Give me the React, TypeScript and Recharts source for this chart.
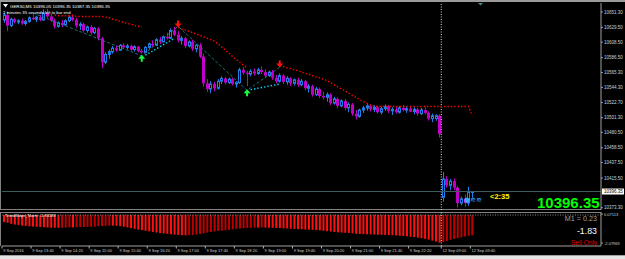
import { ComposedChart, Bar, Line, XAxis, YAxis, ReferenceLine, Cell } from 'recharts';

const SLOTS = 165;
const BULL = '#1e7ee8';
const BEAR = '#c000c8';
const FONT = '"Liberation Sans", Arial, sans-serif';

// GER30 M5 candles, 9 Sep 13:00 .. 22:55 then 12 Sep 09:00 .. 09:40
const openP = [
  10640, 10647, 10632, 10641, 10637, 10639, 10635, 10638, 10643, 10641, 10644, 10640, 10650, 10645, 10639, 10631, 10636, 10633, 10639, 10644,
  10640, 10632, 10634, 10625, 10630, 10622, 10628, 10614, 10580, 10591, 10595, 10600, 10597, 10604, 10601, 10603, 10598, 10602, 10596, 10594,
  10601, 10606, 10604, 10612, 10609, 10616, 10614, 10625, 10619, 10611, 10614, 10603, 10609, 10599, 10604, 10588, 10550, 10542, 10549, 10543,
  10553, 10557, 10551, 10556, 10549, 10551, 10569, 10565, 10563, 10567, 10564, 10569, 10566, 10561, 10566, 10558, 10553, 10561, 10552, 10557,
  10550, 10555, 10548, 10553, 10543, 10546, 10534, 10542, 10532, 10530, 10534, 10522, 10528, 10518, 10525, 10515, 10520, 10507, 10503, 10512,
  10515, 10518, 10513, 10516, 10509, 10514, 10517, 10511, 10513, 10509, 10515, 10512, 10514, 10510, 10513, 10507, 10512, 10508, 10500, 10500,
  10504, 10388, 10414, 10405, 10411, 10402, 10380, 10386, 10380, 10396.05,
];
const highP = [
  10650, 10652, 10643, 10643, 10641, 10642, 10640, 10645, 10648, 10646, 10647, 10655, 10656, 10649, 10642, 10638, 10640, 10641, 10646, 10648,
  10643, 10637, 10636, 10632, 10633, 10630, 10630, 10616, 10594, 10598, 10603, 10604, 10606, 10607, 10606, 10605, 10604, 10603, 10599, 10603,
  10608, 10611, 10614, 10616, 10618, 10622, 10628, 10630, 10624, 10617, 10616, 10611, 10612, 10606, 10607, 10592, 10556, 10553, 10552, 10556,
  10560, 10559, 10558, 10558, 10553, 10572, 10573, 10568, 10570, 10571, 10572, 10574, 10570, 10568, 10569, 10562, 10564, 10563, 10560, 10559,
  10557, 10558, 10556, 10555, 10549, 10548, 10545, 10544, 10538, 10537, 10536, 10531, 10530, 10527, 10528, 10523, 10522, 10512, 10514, 10518,
  10521, 10520, 10519, 10518, 10517, 10520, 10519, 10516, 10517, 10518, 10519, 10517, 10518, 10516, 10515, 10515, 10516, 10510, 10507, 10506,
  10506, 10424, 10418, 10414, 10415, 10404, 10389, 10392, 10403, 10396.35,
];
const lowP = [
  10636, 10624, 10630, 10635, 10634, 10633, 10632, 10636, 10640, 10637, 10638, 10639, 10643, 10637, 10628, 10629, 10630, 10632, 10637, 10638,
  10629, 10626, 10622, 10622, 10619, 10620, 10611, 10572, 10577, 10585, 10592, 10595, 10596, 10599, 10598, 10596, 10595, 10594, 10592, 10593,
  10599, 10602, 10603, 10606, 10608, 10612, 10613, 10617, 10608, 10605, 10600, 10601, 10596, 10594, 10586, 10545, 10538, 10536, 10539, 10541,
  10549, 10548, 10549, 10547, 10544, 10549, 10562, 10546, 10560, 10561, 10562, 10563, 10558, 10559, 10555, 10550, 10551, 10549, 10548, 10546,
  10547, 10545, 10546, 10540, 10537, 10531, 10532, 10529, 10527, 10524, 10519, 10520, 10515, 10516, 10512, 10509, 10504, 10499, 10501, 10508,
  10511, 10510, 10509, 10507, 10506, 10511, 10508, 10505, 10507, 10507, 10510, 10508, 10509, 10506, 10504, 10505, 10506, 10497, 10495, 10497,
  10473, 10382, 10402, 10398, 10398, 10374, 10377, 10375, 10376, 10387.35,
];
const closeP = [
  10647, 10632, 10641, 10637, 10639, 10635, 10638, 10643, 10641, 10644, 10640, 10650, 10645, 10639, 10631, 10636, 10633, 10639, 10644, 10640,
  10632, 10634, 10625, 10630, 10622, 10628, 10614, 10580, 10591, 10595, 10600, 10597, 10604, 10601, 10603, 10598, 10602, 10596, 10594, 10601,
  10606, 10604, 10612, 10609, 10616, 10614, 10625, 10619, 10611, 10614, 10603, 10609, 10599, 10604, 10588, 10550, 10542, 10549, 10543, 10553,
  10557, 10551, 10556, 10549, 10551, 10569, 10565, 10563, 10567, 10564, 10569, 10566, 10561, 10566, 10558, 10553, 10561, 10552, 10557, 10550,
  10555, 10548, 10553, 10543, 10546, 10534, 10542, 10532, 10530, 10534, 10522, 10528, 10518, 10525, 10515, 10520, 10507, 10503, 10512, 10515,
  10518, 10513, 10516, 10509, 10514, 10517, 10511, 10513, 10509, 10515, 10512, 10514, 10510, 10513, 10507, 10512, 10508, 10500, 10504, 10504,
  10478, 10414, 10405, 10411, 10402, 10380, 10386, 10380, 10396, 10396.35,
];

// red trailing stop (dotted), starts at bar 14
const redStopFrom = 14;
const redStop = [
  10647, 10646, 10646, 10646, 10646, 10646, 10645, 10645, 10645, 10645, 10645, 10645, 10645, 10645,
  10644, 10643, 10641, 10640, 10638, 10637, 10635, 10634, 10632, 10631, 10630,
  null, null, null, null, null, null, null, null, null,
  10629, 10627, 10626, 10624, 10622, 10620, 10618, 10616, 10614, 10612, 10610,
  10606, 10602, 10597, 10593, 10588, 10584, 10580, 10576, 10572,
  null, null, null, null, null, null, null, null,
  10575, 10574, 10572, 10571, 10569, 10568, 10566, 10564, 10563, 10561, 10559, 10558, 10556,
  10554, 10551, 10548, 10545, 10542, 10539, 10536, 10533, 10530, 10527, 10524, 10522,
  10519, 10518, 10517, 10517, 10517, 10517, 10517, 10517, 10517, 10517, 10517, 10517, 10517, 10517,
  10517, 10517, 10517, 10517, 10517, 10517, 10517, 10517, 10517, 10517, 10517, 10517, 10517, 10517,
  10504,
];

// cyan support dots [bar, price]
const supportPts = [
  [39, 10590], [40, 10593], [41, 10596], [42, 10599], [43, 10602], [44, 10605], [45, 10608], [46, 10611], [47, 10614],
  [68, 10541], [69, 10542], [70, 10543], [71, 10544], [72, 10545], [73, 10546], [74, 10547], [75, 10548], [76, 10549],
];
const zigzagPts = [[8, 10650], [38, 10589], [48, 10631], [67, 10540], [76, 10573]];
const buyArrows = [[38, 10585], [67, 10536]];
const sellArrows = [[48, 10635], [76, 10578]];

// TrendSlope_Norm histogram
const slopeVals = [
  -0.52, -0.58, -0.66, -0.71, -0.75, -0.79, -0.81, -0.84, -0.86, -0.88, -0.9, -0.91, -0.93, -0.94, -0.95, -0.95, -0.94, -0.93, -0.92, -0.92,
  -0.91, -0.9, -0.89, -0.88, -0.87, -0.86, -0.84, -0.82, -0.8, -0.79, -0.79, -0.8, -0.83, -0.87, -0.92, -0.98, -1.03, -1.08, -1.12, -1.17,
  -1.21, -1.26, -1.3, -1.34, -1.37, -1.4, -1.43, -1.46, -1.48, -1.5, -1.51, -1.5, -1.48, -1.45, -1.41, -1.36, -1.31, -1.26, -1.22, -1.19,
  -1.16, -1.13, -1.1, -1.06, -1.03, -1.0, -0.98, -0.96, -0.95, -0.94, -0.94, -0.93, -0.93, -0.94, -0.95, -0.96, -0.97, -0.99, -1.0, -1.02,
  -1.04, -1.05, -1.06, -1.08, -1.09, -1.1, -1.12, -1.14, -1.17, -1.2, -1.23, -1.26, -1.28, -1.3, -1.32, -1.34, -1.36, -1.39, -1.41, -1.42,
  -1.43, -1.44, -1.45, -1.46, -1.47, -1.48, -1.49, -1.5, -1.52, -1.54, -1.56, -1.58, -1.61, -1.64, -1.68, -1.72, -1.77, -1.83, -1.9, -1.97,
  -2.05, -2.0, -1.93, -1.85, -1.78, -1.72, -1.66, -1.6, -1.55, -1.5,
];

const priceTicks = [10651.3, 10629.5, 10608.5, 10586.5, 10565.3, 10544.3, 10522.7, 10501.3, 10480.5, 10458.5, 10437.5, 10415.5, 10373.3];
const slopeTicks = [0.07113, -2.07969];
const timeTickIdx = [0, 8, 16, 24, 32, 40, 48, 56, 64, 72, 80, 88, 96, 104, 112, 121, 129];
const timeTickText = [
  '9 Sep 2016', '9 Sep 13:40', '9 Sep 14:20', '9 Sep 15:00', '9 Sep 15:40', '9 Sep 16:20', '9 Sep 17:00', '9 Sep 17:40', '9 Sep 18:20',
  '9 Sep 19:00', '9 Sep 19:40', '9 Sep 20:20', '9 Sep 21:00', '9 Sep 21:40', '9 Sep 22:20', '12 Sep 09:00', '12 Sep 09:40',
];

const lastPrice = closeP[closeP.length - 1];

const rows: any[] = Array.from({ length: SLOTS }, (_, i) => ({
  i,
  o: openP[i] ?? null,
  h: highP[i] ?? null,
  l: lowP[i] ?? null,
  c: closeP[i] ?? null,
  range: i < closeP.length ? [lowP[i], highP[i]] : null,
  red: redStop[i - redStopFrom] ?? null,
  sup: null,
  zig: null,
  buy: null,
  sell: null,
  slope: slopeVals[i] ?? null,
}));
supportPts.forEach(([i, v]) => (rows[i].sup = v));
zigzagPts.forEach(([i, v]) => (rows[i].zig = v));
buyArrows.forEach(([i, v]) => (rows[i].buy = v));
sellArrows.forEach(([i, v]) => (rows[i].sell = v));

function Candle(props: any) {
  const { x, y, width, height, payload } = props;
  if (!payload || payload.c == null) return <g />;
  const { o, h, l, c } = payload;
  const top = Math.min(y, y + height);
  const span = Math.abs(height);
  const py = (v: number) => top + ((h - v) / (h - l || 1)) * span;
  const cx = Math.floor(x + width / 2) + 0.5;
  const bull = c >= o;
  const col = bull ? BULL : BEAR;
  const bTop = py(Math.max(o, c));
  const bBot = py(Math.min(o, c));
  return (
    <g>
      <line x1={cx} x2={cx} y1={top} y2={top + span} stroke={col} strokeWidth={1} />
      {bull ? (
        <rect x={cx - 1} y={bTop} width={2} height={Math.max(bBot - bTop, 1)} fill="#000" stroke={col} strokeWidth={1} />
      ) : (
        <rect x={cx - 1.5} y={bTop} width={3} height={Math.max(bBot - bTop, 1)} fill={col} />
      )}
    </g>
  );
}

const upArrow = (p: any) => {
  if (p.value == null || p.cy == null) return <g key={p.index} />;
  const { cx, cy } = p;
  return (
    <path key={p.index} fill="#10ff40"
      d={`M${cx},${cy - 4} L${cx + 3.5},${cy} L${cx + 1},${cy} L${cx + 1},${cy + 3} L${cx - 1},${cy + 3} L${cx - 1},${cy} L${cx - 3.5},${cy} Z`} />
  );
};
const downArrow = (p: any) => {
  if (p.value == null || p.cy == null) return <g key={p.index} />;
  const { cx, cy } = p;
  return (
    <path key={p.index} fill="#ff1010"
      d={`M${cx},${cy + 4} L${cx + 3.5},${cy} L${cx + 1},${cy} L${cx + 1},${cy - 3} L${cx - 1},${cy - 3} L${cx - 1},${cy} L${cx - 3.5},${cy} Z`} />
  );
};

function PriceTick({ x, y, payload }: any) {
  return (
    <text x={x} y={y} dy={1.6} fontSize={4.5} fill="#d0d0d0" fontFamily={FONT}>
      {Number(payload.value).toFixed(2)}
    </text>
  );
}

function SlopeTick({ x, y, payload }: any) {
  return (
    <text x={x} y={y} dy={1.6} fontSize={4} fill="#d0d0d0" fontFamily={FONT}>
      {Number(payload.value).toFixed(5)}
    </text>
  );
}

function TimeTick({ x, y, payload }: any) {
  const k = timeTickIdx.indexOf(payload.value);
  const tx = x - 1.8;
  return (
    <g>
      <line x1={tx} x2={tx} y1={y} y2={y + 2.5} stroke="#b0b0b0" />
      <text x={tx + 1.2} y={y + 5.5} fontSize={4} fill="#d0d0d0" fontFamily={FONT}>
        {timeTickText[k]}
      </text>
    </g>
  );
}

function PriceTag(p: any) {
  const vb = p.viewBox || {};
  const x0 = vb.x ?? vb.x1 ?? 0;
  const w = vb.width ?? (vb.x2 - vb.x1);
  const y0 = vb.y ?? vb.y1 ?? 0;
  return (
    <g>
      <rect x={x0 + w + 1} y={y0 - 3} width={22} height={6} fill="#ffffff" />
      <text x={x0 + w + 3} y={y0 + 1.7} fontSize={4.5} fill="#000" fontFamily={FONT}>
        {lastPrice.toFixed(2)}
      </text>
      <text x={x0 + 488} y={y0 + 7} fontSize={7.5} fontWeight="bold" fill="#ffff00" fontFamily={FONT}>
        {'<2:35'}
      </text>
      <text x={x0 + 462} y={y0 + 10} fontSize={7} fill="#3aa8ff" fontFamily='"DejaVu Sans", sans-serif'>
        {'\u25CF\u224B\u224B'}
      </text>
    </g>
  );
}

export default function App() {
  return (
    <div style={{ position: 'absolute', left: 0, top: 0, width: 625, height: 259, background: '#000', overflow: 'hidden' }}>
      <div style={{ position: 'absolute', left: 0, top: 0, width: 625, height: 2, background: '#9a9a9a' }} />
      <div style={{ position: 'absolute', left: 0, top: 2, width: 601, height: 208, borderLeft: '1px solid #808080', borderBottom: '1px solid #808080', boxSizing: 'border-box' }} />
      <div style={{ position: 'absolute', left: 0, top: 212, width: 601, height: 34, borderLeft: '1px solid #808080', borderTop: '1px solid #808080', boxSizing: 'border-box' }} />

      <div style={{ position: 'absolute', left: 0, top: 0 }}>
        <ComposedChart width={625} height={213} data={rows} margin={{ top: 3, right: 0, bottom: 3, left: 2 }} barCategoryGap={0}>
          <XAxis dataKey="i" type="category" hide />
          <YAxis orientation="right" width={24} domain={[10370.1, 10664.1]} allowDataOverflow ticks={priceTicks}
            tick={<PriceTick />} tickSize={2} tickMargin={1} axisLine={{ stroke: '#a0a0a0' }} tickLine={{ stroke: '#a0a0a0' }} interval={0} />
          <ReferenceLine x={121} position="start" stroke="#e0e0e0" strokeDasharray="1 1.5" />
          <ReferenceLine y={lastPrice} stroke="#3e5e5e" label={<PriceTag />} />
          <Line dataKey="zig" connectNulls stroke="#1e8ca0" strokeWidth={0.8} strokeDasharray="3 2" dot={false} activeDot={false} isAnimationActive={false} />
          <Bar dataKey="range" shape={<Candle />} isAnimationActive={false} />
          <Line dataKey="red" stroke="#ff0000" strokeWidth={1.4} strokeDasharray="1.4 2" dot={false} activeDot={false} isAnimationActive={false} />
          <Line dataKey="sup" stroke="#00e0ff" strokeWidth={1.4} strokeDasharray="1.4 2" dot={false} activeDot={false} isAnimationActive={false} />
          <Line dataKey="buy" stroke="none" dot={upArrow} activeDot={false} isAnimationActive={false} />
          <Line dataKey="sell" stroke="none" dot={downArrow} activeDot={false} isAnimationActive={false} />
        </ComposedChart>
      </div>

      <div style={{ position: 'absolute', left: 0, top: 210 }}>
        <ComposedChart width={625} height={48} data={rows} margin={{ top: 2, right: 0, bottom: 0, left: 2 }} barCategoryGap={0}>
          <XAxis dataKey="i" type="category" ticks={timeTickIdx} interval={0} height={12} tickSize={0} tickMargin={0}
            tick={<TimeTick />} tickLine={false} axisLine={{ stroke: '#a0a0a0' }} />
          <YAxis orientation="right" width={24} domain={[-2.3, 0.223]} allowDataOverflow ticks={slopeTicks}
            tick={<SlopeTick />} tickSize={2} tickMargin={1} axisLine={{ stroke: '#a0a0a0' }} tickLine={{ stroke: '#a0a0a0' }} interval={0} />
          <ReferenceLine y={0} stroke="#8a8a8a" strokeDasharray="1 1.5" />
          <ReferenceLine x={121} position="start" stroke="#e0e0e0" strokeDasharray="1 1.5" />
          <Bar dataKey="slope" barSize={2} isAnimationActive={false}>
            {rows.map((r, k) => (
              <Cell key={k} fill={k > 0 && r.slope != null && r.slope > rows[k - 1].slope ? '#c00000' : '#ff1010'} />
            ))}
          </Bar>
        </ComposedChart>
      </div>

      <svg width={625} height={259} style={{ position: 'absolute', left: 0, top: 0, pointerEvents: 'none' }} fontFamily={FONT}>
        <path d="M3,4 L8,4 L5.5,7.5 Z" fill="#ffffff" />
        <text x={10} y={7.5} fontSize={4.4} fill="#ffffff">GER30,M5  10396.05 10396.35 10387.35 10396.35</text>
        <text x={3} y={14} fontSize={4.2} fill="#ffffff">2 minutes 35 seconds left to bar end</text>
        <path d="M478,3 L483,3 L480.5,5.5 Z" fill="#4a8a8a" />
        <text x={537} y={207.5} fontSize={15} fontWeight="bold" fill="#00ff00">10396.35</text>
        <text x={5} y={217} fontSize={4} fill="#ffffff">TrendSlope_Norm: -1.83183</text>
        <text x={597} y={221} fontSize={7.2} fill="#a0a0a0" textAnchor="end">M1 = 0.23</text>
        <text x={597} y={233.5} fontSize={8.8} fill="#ffffff" textAnchor="end">-1.83</text>
        <text x={597} y={245} fontSize={6.5} fill="#e00000" textAnchor="end">Sell Only</text>
      </svg>

      <div style={{ position: 'absolute', left: 0, top: 255, width: 625, height: 4, background: '#e4e4e4', borderTop: '1px solid #a0a0a0', boxSizing: 'border-box' }} />
    </div>
  );
}
